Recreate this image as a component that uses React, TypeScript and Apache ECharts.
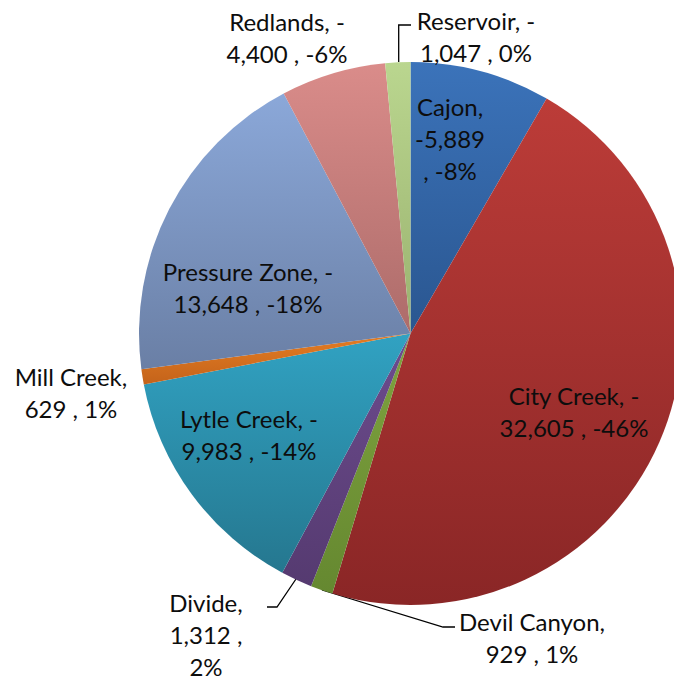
import React, { useEffect, useRef } from "react";
import * as echarts from "echarts";

// ---- data ----
const categories = [
  "Cajon",
  "City Creek",
  "Devil Canyon",
  "Divide",
  "Lytle Creek",
  "Mill Creek",
  "Pressure Zone",
  "Redlands",
  "Reservoir",
];
const signedValues = [-5889, -32605, 929, 1312, -9983, 629, -13648, -4400, -1047];
const percentLabels = [-8, -46, 1, 2, -14, 1, -18, -6, 0];

// ---- styling / layout ----
const colorTop = ["#3b73ba", "#bc3c38", "#7fa33f", "#6d4c8e", "#31a2c2", "#e47d24", "#8ba8d9", "#da8c8a", "#bad68f"];
const colorBottom = ["#2a5690", "#8a2626", "#658830", "#553a70", "#25778f", "#c4631a", "#6a7fa5", "#ad6c6a", "#9ab26f"];
// label wrapping style: "two" = "name, -\nvalue , pct", "cajon" / "divide" = 3 lines
const wrapStyle = ["cajon", "two", "two", "divide", "two", "two", "two", "two", "two"];
const labelPos: [number, number][] = [
  [450, 138],
  [574, 411],
  [532, 637],
  [206, 634],
  [249, 434],
  [71, 392],
  [248, 287],
  [287, 37],
  [476, 36],
];
const leaderLines: ([number, number][] | null)[] = [
  null,
  null,
  [[322, 590], [443, 627], [455, 627]],
  [[296, 579], [277, 607], [267, 607]],
  null,
  null,
  null,
  null,
  [[398.7, 62], [398.7, 25], [411, 25]],
];

const fmt = (v: number) => Math.abs(v).toLocaleString("en-US");

function labelText(i: number): string {
  const name = categories[i];
  const v = signedValues[i];
  const sign = v < 0 ? "-" : "";
  const pct = `${percentLabels[i]}%`;
  switch (wrapStyle[i]) {
    case "cajon":
      return `${name},\n${sign}${fmt(v)}\n, ${pct}`;
    case "divide":
      return `${name},\n${sign}${fmt(v)} ,\n${pct}`;
    default:
      return `${name},${v < 0 ? " -" : ""}\n${fmt(v)} , ${pct}`;
  }
}

export default function App() {
  const ref = useRef<HTMLDivElement>(null);
  useEffect(() => {
    if (!ref.current) return;
    const chart = echarts.init(ref.current, null, { renderer: "svg" });
    const data = categories.map((name, i) => ({
      name,
      value: Math.abs(signedValues[i]),
      itemStyle: {
        color: new echarts.graphic.LinearGradient(0, 0, 0, 1, [
          { offset: 0, color: colorTop[i] },
          { offset: 1, color: colorBottom[i] },
        ]),
      },
      labelLine: { show: leaderLines[i] !== null },
    }));
    chart.setOption({
      animation: false,
      backgroundColor: "#ffffff",
      series: [
        {
          type: "pie",
          center: [410.5, 333.5],
          radius: 271.5,
          startAngle: 90,
          clockwise: true,
          avoidLabelOverlap: false,
          data,
          itemStyle: { borderWidth: 0 },
          label: {
            show: true,
            position: "outside",
            formatter: (p: any) => labelText(p.dataIndex),
            fontFamily: "Lato",
            fontSize: 24,
            lineHeight: 32,
            color: "#0d0d0d",
            align: "center",
          },
          labelLine: {
            show: true,
            lineStyle: { color: "#000000", width: 1.3 },
          },
          labelLayout: (params: any) => {
            const i = params.dataIndex;
            const res: any = {
              x: labelPos[i][0],
              y: labelPos[i][1],
              align: "center",
              verticalAlign: "middle",
            };
            if (leaderLines[i]) res.labelLinePoints = leaderLines[i];
            return res;
          },
        },
      ],
    });
    return () => chart.dispose();
  }, []);
  return (
    <div
      ref={ref}
      style={{ position: "fixed", left: 0, top: 0, width: 674, height: 679 }}
    />
  );
}
